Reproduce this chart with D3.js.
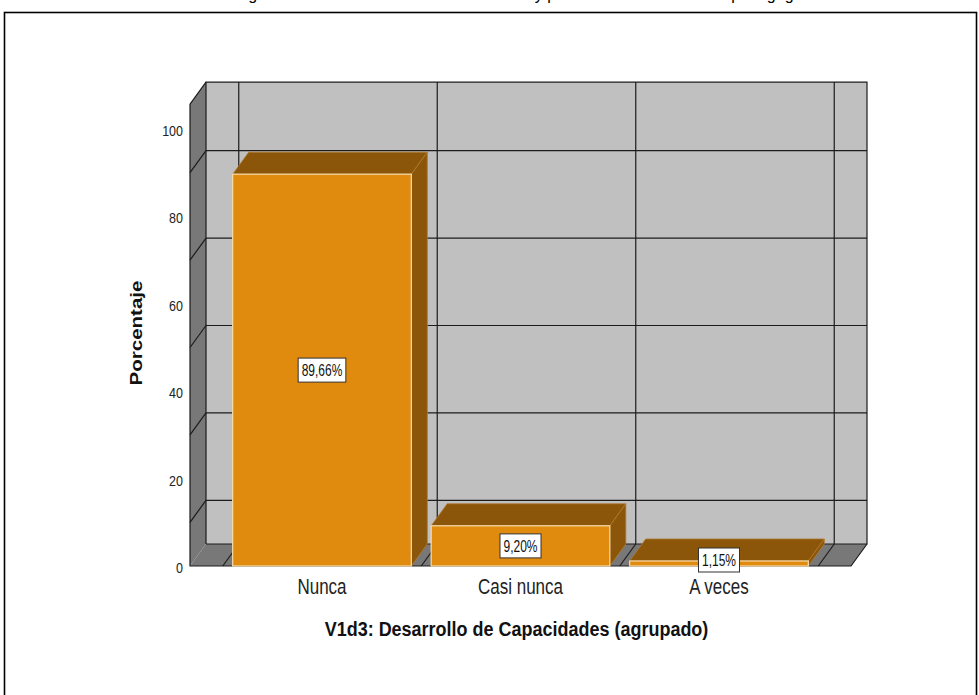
<!DOCTYPE html>
<html>
<head>
<meta charset="utf-8">
<script src="https://cdn.jsdelivr.net/npm/d3@7/dist/d3.min.js"></script>
<style>
  body { margin: 0; background: #fff; }
  svg { display: block; }
  text { font-family: "Liberation Sans", Arial, sans-serif; }
</style>
</head>
<body>
<svg id="chart" width="979" height="695"></svg>
<script>
// chart values
var categories = ['Nunca', 'Casi nunca', 'A veces'];
var percents = [89.66, 9.20, 1.15];
var barLabels = ['89,66%', '9,20%', '1,15%'];
var yTicks = [0, 20, 40, 60, 80, 100];
var yGrid = [10, 30, 50, 70, 90];
var yTitle = 'Porcentaje';
var xTitle = 'V1d3: Desarrollo de Capacidades (agrupado)';
var caption = 'Figura 6. Resultados de la dimensión tres y práctica docente del área pedagógica';

var G = {
  dx: 16, dy: -22,     // depth of the 3d box
  yTop: 105.7,         // top of the walls
  grid: '#1c1c1c',
  wall: '#c0c0c0',
  side: '#787878',
  front: '#e08a0e',
  dark: '#8b5609'
};

var svg = d3.select('#chart');

var y = d3.scaleLinear().domain([0, 100]).range([566, 129]);
var x = d3.scaleBand().domain(categories).range([190, 851]).paddingOuter(0.165).paddingInner(0);
var bw = x.bandwidth();
var x0 = x.range()[0], x1 = x.range()[1];
var y0 = y(0), yT = y(G.yTop);

function back(p) { return [p[0] + G.dx, p[1] + G.dy]; }
function poly(pts) { return pts.map(function(p) { return p.join(','); }).join(' '); }

// caption, cut by the top of the picture (only descenders show)
svg.append('text')
  .attr('x', 235).attr('y', 0)
  .style('font-size', '16px')
  .text(caption);

var box = svg.append('g');

// back wall
box.append('rect')
  .attr('x', x0 + G.dx).attr('y', yT + G.dy)
  .attr('width', x1 - x0).attr('height', y0 - yT)
  .style('fill', G.wall);

// left wall
box.append('polygon')
  .attr('points', poly([[x0, y0], [x0, yT], back([x0, yT]), back([x0, y0])]))
  .style('fill', G.side);

// floor
box.append('polygon')
  .attr('points', poly([[x0, y0], [x1, y0], back([x1, y0]), back([x0, y0])]))
  .style('fill', G.side);

// horizontal gridlines: back wall + left wall
yGrid.forEach(function(v) {
  var p = back([x0, y(v)]);
  box.append('line')
    .attr('x1', p[0]).attr('x2', x1 + G.dx)
    .attr('y1', p[1]).attr('y2', p[1]);
  box.append('line')
    .attr('x1', x0).attr('y1', y(v))
    .attr('x2', p[0]).attr('y2', p[1]);
});

// vertical gridlines at category boundaries: back wall + floor
var bounds = categories.map(function(c) { return x(c); });
bounds.push(x(categories[categories.length - 1]) + bw);
bounds.forEach(function(b) {
  box.append('line')
    .attr('x1', b + G.dx).attr('x2', b + G.dx)
    .attr('y1', yT + G.dy).attr('y2', y0 + G.dy);
  box.append('line')
    .attr('x1', b).attr('y1', y0)
    .attr('x2', b + G.dx).attr('y2', y0 + G.dy);
});

// box edges
box.append('polyline')
  .attr('points', poly([back([x0, y0]), back([x0, yT]), back([x1, yT]), back([x1, y0]), back([x0, y0])]))
  .style('fill', 'none');
box.append('polyline')
  .attr('points', poly([back([x0, yT]), [x0, yT], [x0, y0], [x1, y0], back([x1, y0])]))
  .style('fill', 'none');

box.selectAll('line, polyline')
  .style('stroke', G.grid)
  .style('stroke-width', 1.2);

// bars
var bars = svg.append('g').selectAll('g')
  .data(categories)
  .enter()
  .append('g');

bars.each(function(c, i) {
  var g = d3.select(this);
  var l = x(c) + bw * 0.05, r = x(c) + bw * 0.95;
  var t = y(percents[i]);
  g.append('polygon')
    .attr('points', poly([[l, t], [r, t], back([r, t]), back([l, t])]))
    .style('fill', G.dark)
    .style('stroke', '#b07a30').style('stroke-width', 0.8);
  g.append('polygon')
    .attr('points', poly([[r, t], [r, y0], back([r, y0]), back([r, t])]))
    .style('fill', G.dark)
    .style('stroke', '#b07a30').style('stroke-width', 0.8);
  g.append('rect')
    .attr('x', l).attr('y', t)
    .attr('width', r - l).attr('height', y0 - t)
    .style('fill', G.front)
    .style('stroke', '#f6dcae').style('stroke-width', 1.2);
});

// value labels
bars.each(function(c, i) {
  var g = d3.select(this);
  var cx = x(c) + bw / 2;
  var cy = Math.min((y(percents[i]) + y0) / 2, y0 - 6);
  var lg = g.append('g').attr('transform', 'translate(' + cx + ',' + cy + ')');
  var rect = lg.append('rect').style('fill', '#fff').style('stroke', '#333').style('stroke-width', 1);
  var t = lg.append('text')
    .attr('text-anchor', 'middle')
    .attr('transform', 'scale(1,1.45)')
    .attr('dy', '0.36em')
    .style('font-size', '12px')
    .style('fill', '#111')
    .text(barLabels[i]);
  var w = t.node().getComputedTextLength() + 7;
  rect.attr('x', -w / 2).attr('y', -12).attr('width', w).attr('height', 24);
});

// y tick labels
svg.append('g').selectAll('g')
  .data(yTicks)
  .enter()
  .append('g')
  .attr('transform', function(d) { return 'translate(183,' + (y(d) + 1.5) + ') scale(1,1.2)'; })
  .append('text')
  .attr('text-anchor', 'end')
  .attr('dy', '0.36em')
  .style('font-size', '12.5px')
  .style('fill', '#222')
  .text(function(d) { return d; });

// category labels
svg.append('g').selectAll('g')
  .data(categories)
  .enter()
  .append('g')
  .attr('transform', function(d) { return 'translate(' + (x(d) + bw / 2) + ',594) scale(1,1.35)'; })
  .append('text')
  .attr('text-anchor', 'middle')
  .style('font-size', '17px')
  .style('fill', '#222')
  .text(function(d) { return d; });

// axis titles
svg.append('text')
  .attr('transform', 'translate(142,333) rotate(-90)')
  .attr('text-anchor', 'middle')
  .attr('textLength', 105)
  .attr('lengthAdjust', 'spacingAndGlyphs')
  .style('font-size', '16px')
  .style('font-weight', 'bold')
  .style('fill', '#111')
  .text(yTitle);

svg.append('g')
  .attr('transform', 'translate(516.5,636) scale(1,1.15)')
  .append('text')
  .attr('text-anchor', 'middle')
  .style('font-size', '18px')
  .style('font-weight', 'bold')
  .style('fill', '#111')
  .text(xTitle);

// outer frame
svg.append('rect')
  .attr('x', 4.5).attr('y', 12.5)
  .attr('width', 972).attr('height', 720)
  .style('fill', 'none')
  .style('stroke', '#000')
  .style('stroke-width', 1.6);
</script>
</body>
</html>
